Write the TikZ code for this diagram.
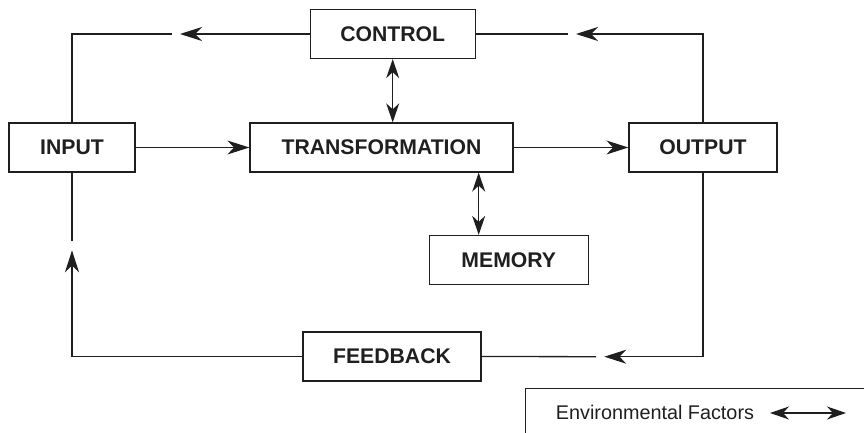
\documentclass[tikz,border=0pt]{standalone}
\usepackage{fontspec}
\setmainfont{Liberation Sans}
\usetikzlibrary{arrows.meta}
\tikzset{
  block/.style={draw, line width=0.65pt, minimum height=24.5pt, inner sep=0pt,
    font=\fontsize{10.6}{12}\selectfont\bfseries},
  flow/.style={line width=0.65pt, -{Stealth[length=11pt,width=7pt,inset=3.4pt]}},
  both/.style={line width=0.65pt, {Stealth[length=9.5pt,width=6.5pt,inset=3pt]}-{Stealth[length=9.5pt,width=6.5pt,inset=3pt]}},
  link/.style={line width=0.65pt}
}
\begin{document}
\begin{tikzpicture}[x=0.5pt, y=-0.5pt, black!88]
      \useasboundingbox (0,0) rectangle (864,433);
      \node[block, minimum width=63pt] (input) at (72,147.5) {INPUT};
      \node[block, minimum width=131.5pt] (trans) at (381.5,147.5) {TRANSFORMATION};
      \node[block, minimum width=74pt] (output) at (703,147.5) {OUTPUT};
      \node[block, minimum width=82.5pt] (control) at (392.7,34) {CONTROL};
      \node[block, minimum width=79.5pt] (memory) at (508.8,260) {MEMORY};
      \node[block, minimum width=89pt] (feedback) at (392,356.5) {FEEDBACK};
      % gaps after the arrow tips
      \coordinate (ctlR) at (576,34);
      \coordinate (ctlRgap) at (568,34);
      \coordinate (ctlL) at (180,34);
      \coordinate (ctlLgap) at (172,34);
      \coordinate (fbR) at (604.3,356.7);
      \coordinate (fbRgap) at (596,356.7);
      \coordinate (fbL) at (input.south |- 0,250.3);
      \coordinate (fbLgap) at (input.south |- 0,241.3);
      \coordinate (memx) at (478.7,0);
      \begin{scope}
        \draw[flow] (input) to (trans);
        \draw[flow] (trans) to (output);
        \draw[both] (control.south) to (control.south |- trans.north);
        \draw[both] (trans.south -| memx) to (memory.north -| memx);
        \draw[flow] (output.north) |- (ctlR);
        \draw[link] (ctlRgap) to (control.east);
        \draw[flow] (control.west) to (ctlL);
        \draw[link] (ctlLgap) -| (input.north);
        \draw[flow] (output.south) |- (fbR);
        \draw[link] (fbRgap) to (feedback.east);
        \draw[flow] (feedback.west) -| (fbL);
        \draw[link] (fbLgap) to (input.south);
      \end{scope}
      % legend
      \draw[link] (864,388.7) -- (525.3,388.7) -- (525.3,433);
      \node[font=\fontsize{9.9}{12}\selectfont] (env) at (655,412) {Environmental Factors};
      \coordinate (envL) at (770,413);
      \coordinate (envR) at (846,413);
      \draw[both] (envL) to (envR);
    \end{tikzpicture}
\end{document}
